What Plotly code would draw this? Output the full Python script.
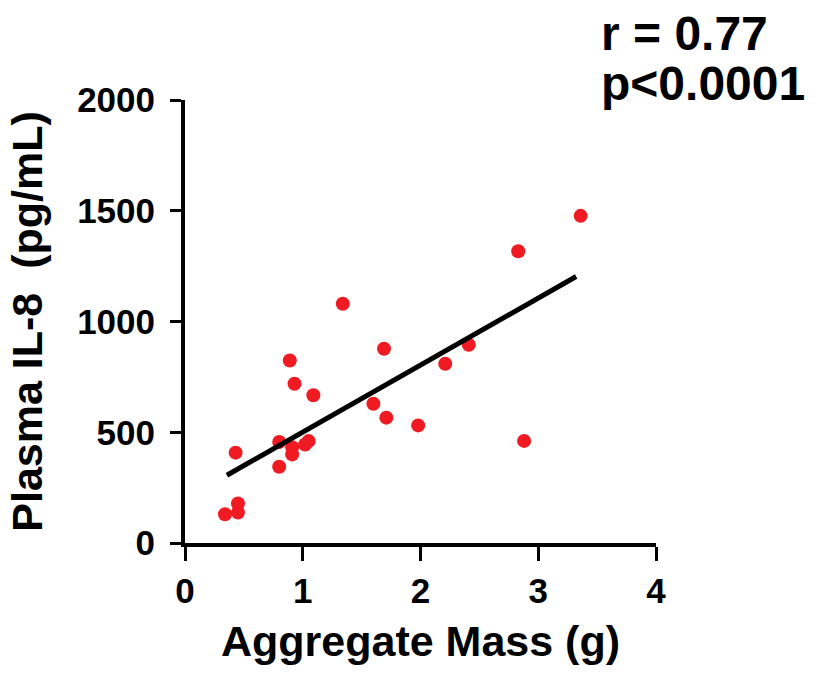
import plotly.graph_objects as go

# Data
aggregate_mass = [0.34, 0.43, 0.45, 0.45, 0.80, 0.80, 0.89, 0.91, 0.91, 0.93, 1.02, 1.05,
                  1.09, 1.34, 1.60, 1.69, 1.71, 1.98, 2.21, 2.41, 2.83, 2.88, 3.36]
plasma_il8 = [130, 408, 178, 138, 456, 344, 824, 432, 400, 719, 445, 460,
              667, 1080, 629, 877, 566, 531, 809, 895, 1317, 461, 1477]

fit_x = [0.356, 3.322]
fit_y = [306, 1203]

x_ticks = [0, 1, 2, 3, 4]
y_ticks = [0, 500, 1000, 1500, 2000]

stat_r = "r = 0.77"
stat_p = "p<0.0001"

tick_font = dict(family="Liberation Sans, Arial, sans-serif", size=35, color="black", weight=700)
title_font = dict(family="Liberation Sans, Arial, sans-serif", size=43, color="black", weight=700)
stat_font = dict(family="Liberation Sans, Arial, sans-serif", size=48, color="black", weight=700)

fig = go.Figure()
fig.add_trace(go.Scatter(
    x=aggregate_mass, y=plasma_il8, mode="markers",
    marker=dict(color="#F01A22", size=14, line=dict(width=0)),
    showlegend=False, cliponaxis=False,
))
fig.add_trace(go.Scatter(
    x=fit_x, y=fit_y, mode="lines",
    line=dict(color="black", width=5),
    showlegend=False,
))

fig.update_layout(
    width=823, height=677,
    margin=dict(l=185, r=167, t=100, b=134),
    paper_bgcolor="white", plot_bgcolor="white",
    xaxis=dict(
        range=[0, 4], tickvals=x_ticks, ticktext=[str(v) for v in x_ticks],
        showgrid=False, zeroline=False, showline=True, linecolor="black", linewidth=4,
        ticks="outside", ticklen=14, tickwidth=3, tickcolor="black",
        tickfont=tick_font, automargin=False,
        title=dict(text="Aggregate Mass (g)", font=title_font, standoff=18),
    ),
    yaxis=dict(
        range=[0, 2000], tickvals=y_ticks, ticktext=[str(v) for v in y_ticks],
        showgrid=False, zeroline=False, showline=True, linecolor="black", linewidth=4,
        ticks="outside", ticklen=11, tickwidth=3, tickcolor="black",
        tickfont=tick_font, ticklabelstandoff=8, automargin=False,
        title=dict(text="Plasma IL-8\u00a0 (pg/mL)", font=title_font, standoff=22),
    ),
    annotations=[
        dict(text=stat_r, xref="paper", yref="paper", x=0.878, y=1.150,
             xanchor="left", yanchor="middle", showarrow=False, font=stat_font),
        dict(text=stat_p, xref="paper", yref="paper", x=0.878, y=1.038,
             xanchor="left", yanchor="middle", showarrow=False, font=stat_font),
    ],
)

fig.write_html("out.html", config={"displayModeBar": False},
               post_script="document.body.style.margin='0';")
